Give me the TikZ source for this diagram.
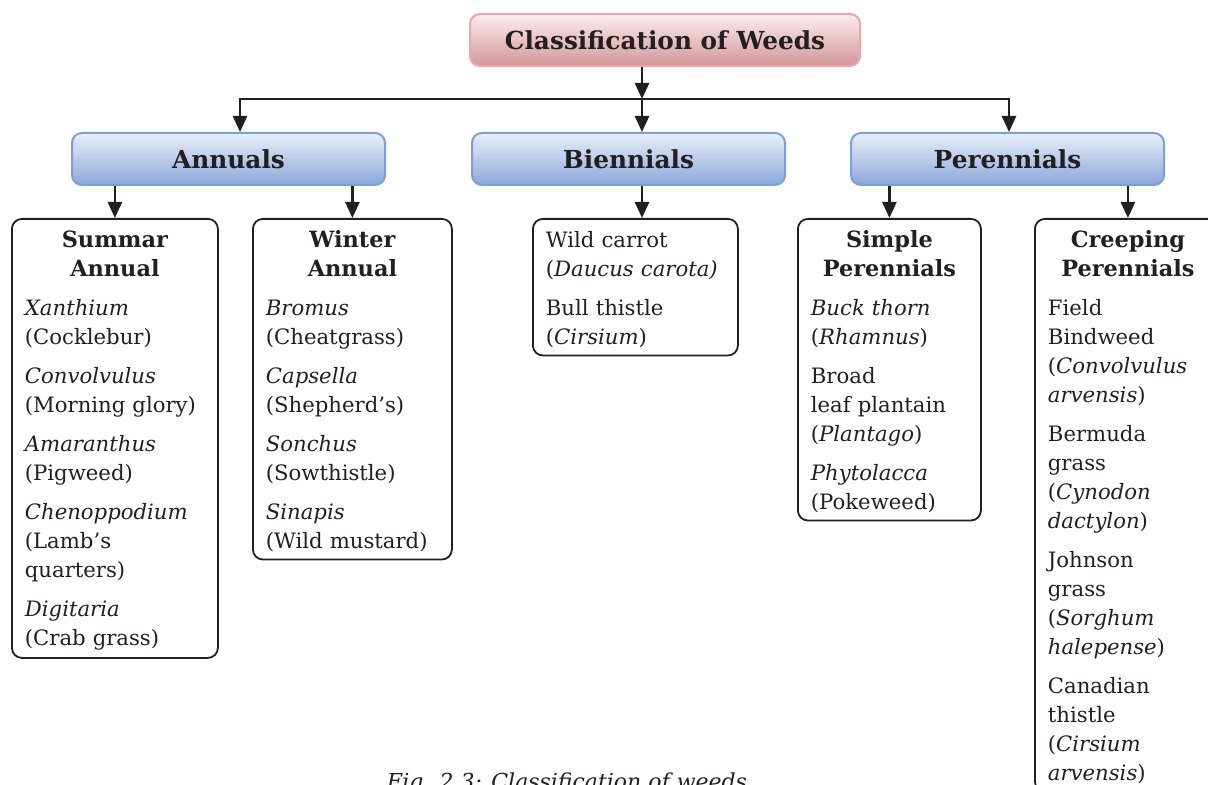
\documentclass[tikz,border=0pt]{standalone}
\usepackage{fontspec}
\setmainfont{DejaVu Serif}
\usetikzlibrary{arrows.meta,positioning}
\setlength{\parindent}{0pt}

\definecolor{pinktop}{HTML}{FBEDEE}
\definecolor{pinkbot}{HTML}{D3969A}
\definecolor{pinkline}{HTML}{E6AAAE}
\definecolor{bluetop}{HTML}{E9EFFA}
\definecolor{bluebot}{HTML}{8BA7DA}
\definecolor{blueline}{HTML}{7C9FD7}
\definecolor{ink}{HTML}{231F20}

\newcommand{\hdr}[1]{{\centering\bfseries\fontsize{11.2}{14.5}\selectfont\strut #1\par}\vspace{5pt}}
\newcommand{\gap}{\par\vspace{5pt}}

\begin{document}
\begin{tikzpicture}[
  x=0.5pt, y=-0.5pt,
  arr/.style={-{Triangle[length=8pt,width=7pt]}, line width=1.3pt, draw=ink},
  topbox/.style={draw=pinkline, line width=1pt, rounded corners=5pt,
    top color=pinktop, bottom color=pinkbot, text=ink,
    minimum width=195pt, minimum height=26pt,
    font=\bfseries\fontsize{12.4}{14}\selectfont},
  headbox/.style={draw=blueline, line width=1pt, rounded corners=5pt,
    top color=bluetop, bottom color=bluebot, text=ink,
    minimum width=156.5pt, minimum height=26pt,
    font=\bfseries\fontsize{12.4}{14}\selectfont},
  leafbox/.style={draw=ink, line width=0.9pt, rounded corners=5pt, text=ink,
    anchor=north west, inner xsep=6.5pt, inner ysep=4pt,
    font=\fontsize{10.6}{14.5}\selectfont},
]
\useasboundingbox (0,0) rectangle (1208,785);

% top levels
\node[topbox] (title) at (665,40) {Classification of Weeds};
\node[headbox] (ann) at (228.5,159) {Annuals};
\node[headbox] (bien) at (628.5,159) {Biennials};
\node[headbox] (peren) at (1007.5,159) {Perennials};
\coordinate (split) at (642,99);
\coordinate (jl) at (240,99);
\coordinate (jr) at (1009,99);

% leaf boxes
\node[leafbox, text width=90pt] (summer) at (11,218) {\hdr{Summar\\Annual}
  \textit{Xanthium}\\(Cocklebur)\gap
  \textit{Convolvulus}\\(Morning glory)\gap
  \textit{Amaranthus}\\(Pigweed)\gap
  \textit{Chenoppodium}\\(Lamb’s\\quarters)\gap
  \textit{Digitaria}\\(Crab grass)};
\node[leafbox, text width=86.5pt] (winter) at (252,218) {\hdr{Winter\\Annual}
  \textit{Bromus}\\(Cheatgrass)\gap
  \textit{Capsella}\\(Shepherd’s)\gap
  \textit{Sonchus}\\(Sowthistle)\gap
  \textit{Sinapis}\\(Wild mustard)};
\node[leafbox, text width=89.5pt] (wild) at (532,218) {\strut Wild carrot\\(\textit{Daucus carota)}\gap
  Bull thistle\\(\textit{Cirsium})};
\node[leafbox, text width=78.5pt] (simple) at (797,218) {\hdr{Simple\\Perennials}
  \textit{Buck thorn}\\(\textit{Rhamnus})\gap
  Broad\\leaf plantain\\(\textit{Plantago})\gap
  \textit{Phytolacca}\\(Pokeweed)};
\node[leafbox, text width=80pt] (creep) at (1034,218) {\hdr{Creeping\\Perennials}
  Field\\Bindweed\\(\textit{Convolvulus}\\\textit{arvensis})\gap
  Bermuda\\grass\\(\textit{Cynodon}\\\textit{dactylon})\gap
  Johnson\\grass\\(\textit{Sorghum}\\\textit{halepense})\gap
  Canadian\\thistle\\(\textit{Cirsium}\\\textit{arvensis})};

% connectors
\draw[arr] (title.south -| split) -- (split);
\draw[arr, line join=miter] (jr) -- (jl) -- (jl |- ann.north);
\draw[arr, line join=miter] (jl) -- (jr) -- (jr |- peren.north);
\draw[arr] (split) -- (split |- bien.north);
\draw[arr] (ann.south -| summer.north) -- (summer.north);
\draw[arr] (ann.south -| winter.north) -- (winter.north);
\draw[arr] (bien.south -| split) -- (split |- wild.north);
\draw[arr] (peren.south -| simple.north) -- (simple.north);
\draw[arr] (peren.south -| creep.north) -- (creep.north);

\node[anchor=base, text=ink, font=\itshape\fontsize{11}{13}\selectfont] (caption) at (567,789) {Fig. 2.3: Classification of weeds};
\end{tikzpicture}
\end{document}
